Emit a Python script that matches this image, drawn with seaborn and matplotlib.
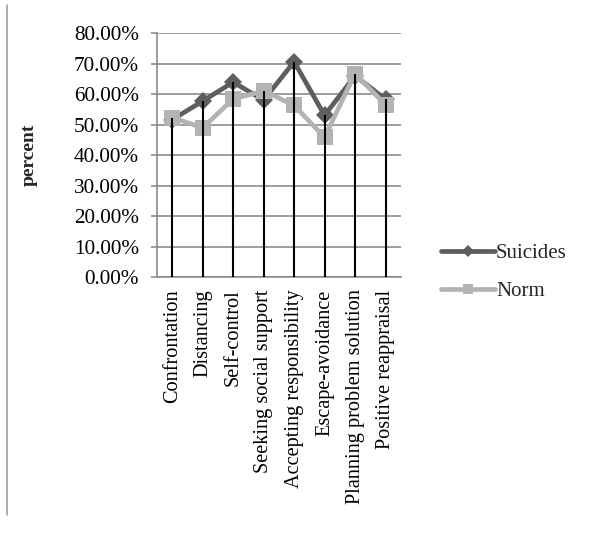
import matplotlib
matplotlib.use("Agg")
import matplotlib.pyplot as plt
from matplotlib.lines import Line2D
from matplotlib.ticker import PercentFormatter, FixedLocator
import numpy as np
import pandas as pd
import seaborn as sns

categories = ["Confrontation", "Distancing", "Self-control", "Seeking social support",
              "Accepting responsibility", "Escape-avoidance",
              "Planning problem solution", "Positive reappraisal"]
suicides = [51.6, 57.7, 63.9, 58.0, 70.6, 53.0, 66.0, 58.3]
norm = [52.3, 48.9, 58.4, 61.0, 56.3, 45.8, 66.7, 56.5]
series_names = ["Suicides", "Norm"]
y_ticks = [0, 10, 20, 30, 40, 50, 60, 70, 80]

sns.set_theme(style="white")
plt.rcParams["font.family"] = ["Liberation Serif", "DejaVu Serif"]

df = pd.DataFrame({
    "category": categories * 2,
    "value": suicides + norm,
    "series": [series_names[0]] * len(categories) + [series_names[1]] * len(categories),
})

dark = "#5e5e5e"
light = "#b3b3b3"
grid_c = "#8c8c8c"

fig = plt.figure(figsize=(5.95, 5.33), dpi=100)
ax = fig.add_axes([0.2639, 0.4803, 0.4096, 0.4577])

sns.lineplot(data=df, x="category", y="value", hue="series", style="series",
             hue_order=series_names, style_order=series_names,
             palette={"Suicides": dark, "Norm": light},
             markers={"Suicides": "D", "Norm": "s"}, dashes=False,
             linewidth=3.4, markersize=9, markeredgewidth=0,
             sort=False, legend=False, ax=ax, zorder=3)
# marker sizes per series
for ln in ax.get_lines():
    if ln.get_marker() == "s":
        ln.set_markersize(11.5)
    else:
        ln.set_markersize(9.5)

x = np.arange(len(categories))
tops = np.maximum(suicides, norm)
ax.vlines(x, 0, tops, colors="black", linewidth=1.5, zorder=5)

ax.set_xlim(-0.5, len(categories) - 0.5)
ax.set_ylim(0, 80)
ax.yaxis.set_major_locator(FixedLocator(y_ticks))
ax.yaxis.set_major_formatter(PercentFormatter(decimals=2))
ax.grid(axis="y", color=grid_c, linewidth=1.2)
ax.grid(axis="x", visible=False)
ax.set_axisbelow(True)

for side in ["top", "right"]:
    ax.spines[side].set_visible(False)
for side in ["left", "bottom"]:
    ax.spines[side].set_color(grid_c)
    ax.spines[side].set_linewidth(1.2)

ax.set_xticks(x)
ax.set_xticklabels(categories, rotation=90, fontsize=14.6, color="black")
ax.tick_params(axis="x", length=0, pad=9)
ax.set_xticks(np.arange(-0.5, len(categories), 1), minor=True)
ax.tick_params(axis="x", which="minor", length=4, color=grid_c, width=1.2)
ax.tick_params(axis="y", labelsize=15.3, length=4, color=grid_c, width=1.2,
               pad=9, labelcolor="black", left=True)
ax.set_xlabel("")
ax.set_ylabel("percent", fontsize=14, fontweight="bold")
ax.yaxis.set_label_coords(-0.49, 0.5)

handles = [
    Line2D([], [], color=dark, linewidth=3.4, marker="D", markersize=6, markeredgewidth=0),
    Line2D([], [], color=light, linewidth=3.4, marker="s", markersize=7, markeredgewidth=0),
]
fig.legend(handles, series_names, loc="upper left", bbox_to_anchor=(0.741, 0.543),
           frameon=False, fontsize=15, handlelength=2.6, handletextpad=0.05,
           labelspacing=0.9, numpoints=1, borderpad=0, borderaxespad=0)

fig.add_artist(Line2D([0.0123, 0.0123], [1 - 5 / 533, 1 - 515 / 533],
                      transform=fig.transFigure, color="#a0a0a0", linewidth=1.2))

fig.savefig("out.png", dpi=100, facecolor="white")
